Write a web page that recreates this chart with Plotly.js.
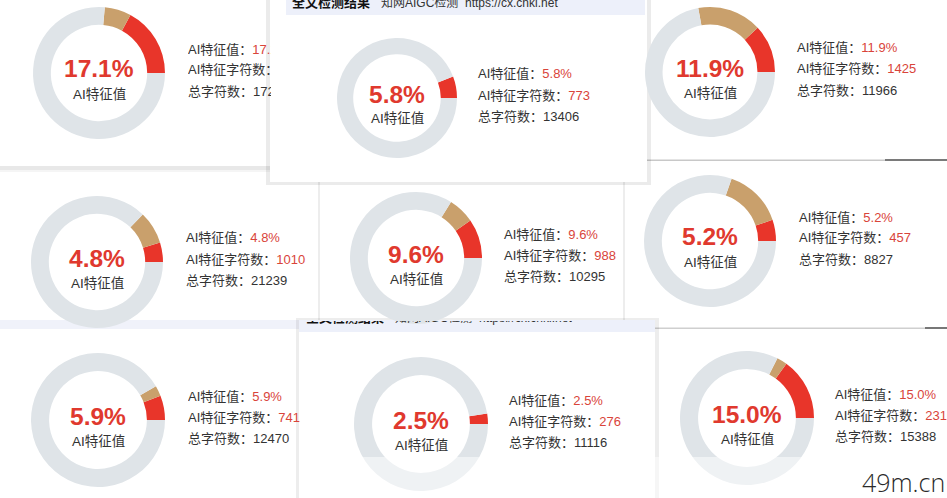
<!DOCTYPE html>
<html>
<head>
<meta charset="utf-8">
<script src="https://cdn.plot.ly/plotly-3.0.1.min.js"></script>
<style>html,body{margin:0;padding:0;background:#f5f5f5;}#chart{width:947px;height:498px;}</style>
</head>
<body>
<div id="chart"></div>
<script>
// ---- data ----
const aiPct      = [17.1, 5.8, 11.9, 4.8, 9.6, 5.2, 5.9, 2.5, 15.0];   // AI特征值 (red slice)
const tanPct     = [6.5, 0, 16, 8, 6.5, 14.5, 2.5, 0, 2.5];            // second (tan) slice, estimated
const aiChars    = ['', '773', '1425', '1010', '988', '457', '741', '276', '2310'];
const totalChars = ['172', '13406', '11966', '21239', '10295', '8827', '12470', '11116', '15388'];
const labelAi    = 'AI特征值';
const labelAiChars = 'AI特征字符数';
const labelTotal = '总字符数';
const headerTitle = '全文检测结果';
const headerSub  = '知网AIGC检测';
const headerUrl  = 'https://cx.cnki.net';
const watermark  = '49m.cn';

// ---- layout (pixel positions of each donut card) ----
const W = 947, H = 498;
const cards = [
  {cx: 99,  cy: 73,  r: 66, dx: 88, clip: 83},
  {cx: 397, cy: 98,  r: 60, dx: 80},
  {cx: 710, cy: 72,  r: 65, dx: 86},
  {cx: 97,  cy: 262, r: 66, dx: 88},
  {cx: 416, cy: 258, r: 66, dx: 87},
  {cx: 710, cy: 241, r: 66, dx: 88},
  {cx: 98,  cy: 420, r: 67, dx: 89, clip: 113},
  {cx: 421, cy: 424, r: 67, dx: 87},
  {cx: 747, cy: 418, r: 67, dx: 87}
];
const RED = '#e8352a', TAN = '#c9a06c', GREY = '#dfe4e8';
const FONT = 'Liberation Sans, Arial, Noto Sans CJK SC, sans-serif';
const px = x => x / W;
const py = y => 1 - y / H;

const traces = aiPct.map((v, i) => {
  const c = cards[i];
  const total = v + tanPct[i] + (100 - v - tanPct[i]);
  return {
    type: 'pie',
    values: [v, tanPct[i], 100 - v - tanPct[i]],
    labels: ['AI', 'tan', 'rest'],
    marker: {colors: [RED, TAN, GREY], line: {width: 0}},
    hole: 0.73,
    sort: false,
    direction: 'counterclockwise',
    // first slice must start at 3 o'clock and run upwards
    rotation: 90 - 360 * v / total,
    textinfo: 'none',
    hoverinfo: 'none',
    showlegend: false,
    domain: {x: [px(c.cx - c.r), px(c.cx + c.r)], y: [py(c.cy + c.r), py(c.cy - c.r)]}
  };
});

const annotations = [];
function addText(x, y, text, font, extra) {
  annotations.push(Object.assign({
    xref: 'paper', yref: 'paper', x: px(x), y: py(y), text: text,
    showarrow: false, xanchor: 'left', yanchor: 'middle', align: 'left',
    font: Object.assign({family: FONT, size: 13, color: '#333'}, font), borderpad: 0
  }, extra || {}));
}
aiPct.forEach((v, i) => {
  const c = cards[i];
  addText(c.cx, c.cy - 4, v.toFixed(1) + '%', {size: 24.5, color: '#e0392e', weight: 'bold'}, {xanchor: 'center', align: 'center'});
  addText(c.cx, c.cy + 21, labelAi, {size: 13.5, color: '#333'}, {xanchor: 'center', align: 'center'});
  const tx = c.cx + c.dx;
  const extra = c.clip ? {width: c.clip} : {};
  addText(tx, c.cy - 24, labelAi + '：<span style="color:#d9443a">' + v.toFixed(1) + '%</span>', {}, extra);
  addText(tx, c.cy - 3, labelAiChars + '：<span style="color:#d9443a">' + aiChars[i] + '</span>', {}, extra);
  addText(tx, c.cy + 18, labelTotal + '：' + totalChars[i], {}, extra);
});
// header of the top-centre card (cut by the top edge, as in the screenshot)
addText(291, 2, '<b>' + headerTitle + '</b>', {size: 13, color: '#111'});
addText(380, 2, headerSub + '  ' + headerUrl, {size: 12, color: '#333'});
// header of the bottom-centre card, mostly hidden under the card above it
addText(305, 323, '<b>' + headerTitle + '</b>', {size: 13, color: '#111'}, {height: 4, valign: 'bottom'});
addText(394, 323, headerSub + '  ' + headerUrl, {size: 12, color: '#333'}, {height: 4, valign: 'bottom'});
// watermark
addText(903, 482, watermark, {size: 25, color: '#2a2a2a', family: 'Open Sans, DejaVu Sans, sans-serif', weight: 300}, {xanchor: 'center', align: 'center'});

const shapes = [];
function rect(x0, y0, x1, y1, fill, line, layer) {
  shapes.push({type: 'rect', xref: 'paper', yref: 'paper', x0: px(x0), x1: px(x1), y0: py(y1), y1: py(y0),
    fillcolor: fill, line: line || {width: 0}, layer: layer || 'below'});
}
// top-left card
rect(0, -2, 282, 170, 'rgba(0,0,0,0.05)');
rect(0, -2, 282, 166, '#ffffff');
// top-right card
rect(640, -2, 949, 161, '#c8c8c8');
rect(640, -2, 949, 159.5, '#ffffff');
rect(885, 159, 949, 161, '#7a7a7a');
// mid-left card
rect(0, 172, 325, 322, '#ffffff');
// mid-right card
rect(622, 161, 949, 329, '#cfcfcf');
rect(622, 161, 949, 327.5, '#ffffff');
rect(925, 327, 949, 329, '#777');
// mid-centre card
rect(318, 179, 625, 323, 'rgba(0,0,0,0.07)');
rect(320, 180, 623, 321, '#ffffff');
// top-centre card
rect(266, -2, 651, 185, 'rgba(0,0,0,0.08)');
rect(270, -2, 647, 182, '#ffffff');
rect(286, -2, 645, 15, '#edf0fa');
// bottom-left card
rect(0, 320, 301, 500, '#ffffff');
rect(0, 320, 301, 329, '#f0f2fa');
// bottom-right card
rect(655, 329, 949, 500, '#ffffff');
// bottom-centre card
rect(296, 318, 659, 500, 'rgba(0,0,0,0.07)');
rect(299, 320, 655, 500, '#ffffff');
rect(299, 320, 655, 332, '#edf0fa');
// translucent band near the bottom
rect(300, 457, 949, 500, 'rgba(255,255,255,0.5)', null, 'above');

Plotly.newPlot('chart', traces, {
  width: W, height: H,
  margin: {l: 0, r: 0, t: 0, b: 0, pad: 0},
  paper_bgcolor: '#f5f5f5',
  plot_bgcolor: '#f5f5f5',
  shapes: shapes,
  annotations: annotations,
  showlegend: false
}, {staticPlot: true, displayModeBar: false});
</script>
</body>
</html>
